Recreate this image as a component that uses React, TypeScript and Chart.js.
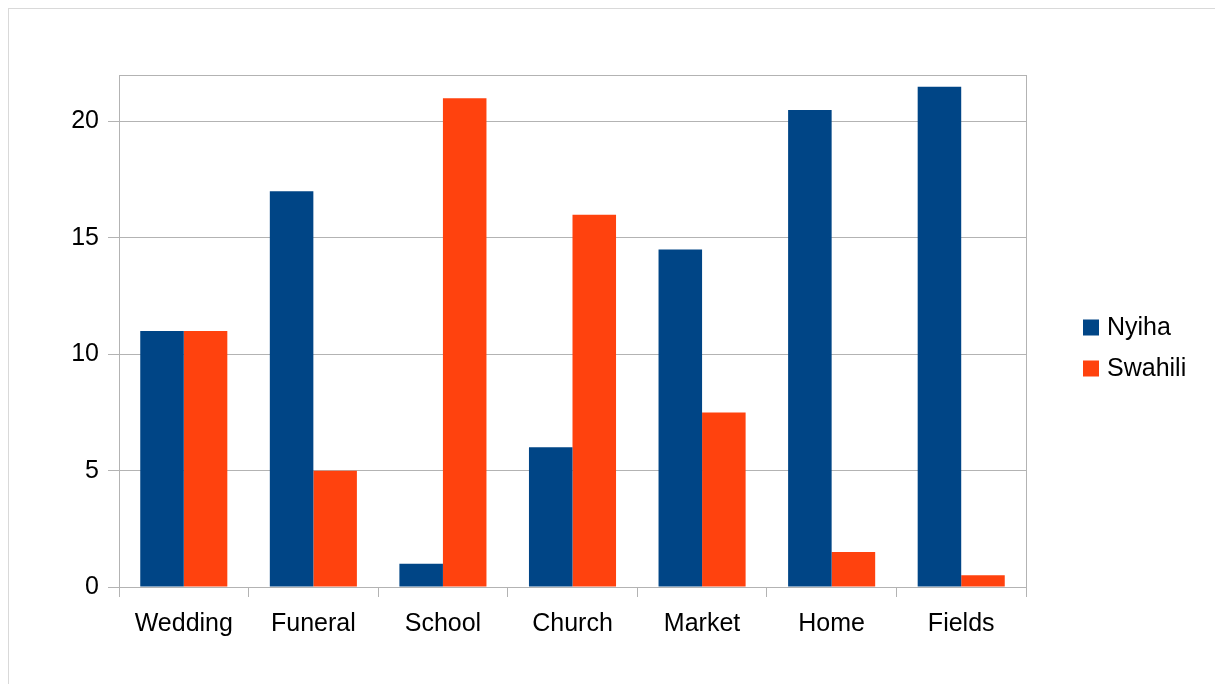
import React, { useEffect, useRef } from "react";
import { Chart, registerables } from "chart.js";

Chart.register(...registerables);

const categories = ["Wedding", "Funeral", "School", "Church", "Market", "Home", "Fields"];
const nyiha = [11, 17, 1, 6, 14.5, 20.5, 21.5];
const swahili = [11, 5, 21, 16, 7.5, 1.5, 0.5];
const seriesNames = ["Nyiha", "Swahili"];
const seriesColors = ["#004586", "#ff420e"];

const FONT = "'Liberation Sans', Arial, sans-serif";
const GRID = "#b3b3b3";

// Frame around the plotting area (top and right edges included)
const frame = {
  id: "plotFrame",
  afterDatasetsDraw(chart: any) {
    const { ctx, chartArea: a } = chart;
    ctx.save();
    ctx.strokeStyle = GRID;
    ctx.lineWidth = 1;
    ctx.strokeRect(Math.round(a.left) + 0.5, Math.round(a.top) + 0.5, Math.round(a.right - a.left), Math.round(a.bottom - a.top));
    ctx.restore();
  },
};

// Legend on the right: square swatch followed by the series name
const sideLegend = {
  id: "sideLegend",
  afterDraw(chart: any) {
    const { ctx } = chart;
    ctx.save();
    ctx.font = `25px ${FONT}`;
    ctx.textBaseline = "middle";
    ctx.textAlign = "left";
    chart.data.datasets.forEach((ds: any, i: number) => {
      const cy = 318.5 + i * 41;
      ctx.fillStyle = ds.backgroundColor;
      ctx.fillRect(1074, cy - 8, 16, 16);
      ctx.fillStyle = "#000";
      ctx.fillText(ds.label, 1098, cy + 1);
    });
    ctx.restore();
  },
};

export default function App() {
  const ref = useRef<HTMLCanvasElement>(null);

  useEffect(() => {
    if (!ref.current) return;
    const chart = new Chart(ref.current, {
      type: "bar",
      data: {
        labels: categories,
        datasets: [
          { label: seriesNames[0], data: nyiha, backgroundColor: seriesColors[0] },
          { label: seriesNames[1], data: swahili, backgroundColor: seriesColors[1] },
        ],
      },
      options: {
        responsive: false,
        animation: false,
        devicePixelRatio: 1,
        layout: { padding: { top: 66, right: 191, bottom: 42, left: 0 } },
        datasets: { bar: { categoryPercentage: 0.672, barPercentage: 1 } },
        plugins: {
          legend: { display: false },
          tooltip: { enabled: false },
        },
        scales: {
          x: {
            grid: { drawOnChartArea: false, offset: true, tickLength: 10, color: GRID },
            border: { color: GRID },
            ticks: { font: { family: FONT, size: 25 }, color: "#000", padding: 12 },
            afterFit(scale: any) {
              scale.height = 60;
            },
          },
          y: {
            min: 0,
            max: 22,
            grid: { color: GRID, tickLength: 11 },
            border: { color: GRID },
            ticks: {
              stepSize: 5,
              includeBounds: false,
              font: { family: FONT, size: 25 },
              color: "#000",
              padding: 9,
            },
            afterFit(scale: any) {
              scale.width = 110;
            },
          },
        },
      },
      plugins: [frame, sideLegend],
    });
    return () => chart.destroy();
  }, []);

  return (
    <div
      style={{
        width: 1210,
        height: 700,
        boxSizing: "border-box",
        border: "1px solid #d9d9d9",
        background: "#fff",
      }}
    >
      <canvas ref={ref} width={1208} height={680} style={{ display: "block" }} />
    </div>
  );
}
